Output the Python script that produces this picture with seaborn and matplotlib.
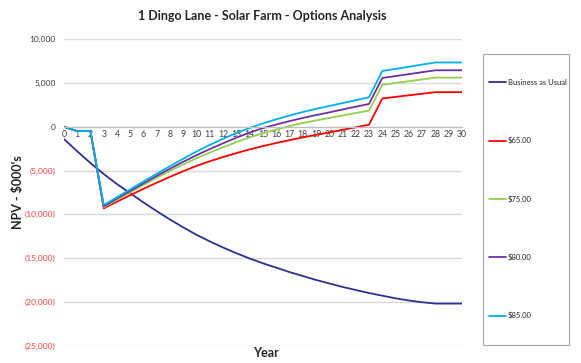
import pandas as pd
import matplotlib.pyplot as plt
import seaborn as sns
from matplotlib.patches import Rectangle

# Datos (NPV en $000's)
years = list(range(0, 31))
series_names = ['Business as Usual', '$65.00', '$75.00', '$80.00', '$85.00']

bau = [-1400, -2800, -4150, -5400, -6550, -7600, -8650, -9650, -10600, -11500,
       -12350, -13100, -13800, -14450, -15050, -15600, -16100, -16600, -17050,
       -17500, -17900, -18300, -18650, -19000, -19300, -19600, -19850, -20050,
       -20200, -20200, -20200]
opt_65 = [0, -500, -500, -9330, -8560, -7820, -7090, -6390, -5720, -5080,
          -4470, -3940, -3460, -3010, -2590, -2210, -1860, -1530, -1220, -930,
          -650, -350, -60, 230, 3230, 3410, 3590, 3770, 3950, 3950, 3950]
opt_75 = [0, -500, -500, -9200, -8350, -7500, -6650, -5830, -5040, -4300,
          -3600, -2950, -2340, -1760, -1210, -750, -320, 80, 430, 720,
          1000, 1290, 1570, 1840, 4800, 5000, 5200, 5400, 5610, 5610, 5610]
opt_80 = [0, -500, -500, -9100, -8200, -7330, -6460, -5610, -4790, -4000,
          -3250, -2550, -1890, -1250, -670, -150, 250, 640, 1000, 1330,
          1640, 1970, 2290, 2600, 5570, 5790, 6010, 6230, 6450, 6450, 6450]
opt_85 = [0, -500, -500, -8950, -8050, -7150, -6250, -5370, -4500, -3650,
          -2830, -2070, -1370, -720, -140, 380, 850, 1280, 1680, 2040,
          2370, 2700, 3030, 3370, 6370, 6610, 6850, 7100, 7340, 7340, 7340]

yticks = [10000, 5000, 0, -5000, -10000, -15000, -20000, -25000]
colores = ['#2E3192', '#FF0000', '#92D050', '#7030A0', '#00B0F0']

# Pasar a formato largo para seaborn
data = pd.DataFrame({'year': years, series_names[0]: bau, series_names[1]: opt_65,
                     series_names[2]: opt_75, series_names[3]: opt_80,
                     series_names[4]: opt_85})
data = data.melt(id_vars='year', var_name='serie', value_name='npv')

sns.set_style('white')
plt.rcParams['font.family'] = ['Lato', 'DejaVu Sans']

fig = plt.figure(figsize=(5.81, 3.63), dpi=100)
ax = fig.add_axes([0.110, 0.048, 0.685, 0.844])

sns.lineplot(data=data, x='year', y='npv', hue='serie', hue_order=series_names,
             palette=colores, linewidth=1.3, ax=ax)

ax.set_xlim(0, 30)
ax.set_ylim(-25000, 10000)

# Eje X sobre la línea de cero (antes de fijar ticks, si no se reinician)
ax.spines['bottom'].set_position(('data', 0))
ax.spines['bottom'].set_color('#BFBFBF')
for s in ['left', 'right', 'top']:
    ax.spines[s].set_visible(False)

ax.set_xticks(years)
ax.set_xticklabels([str(y) for y in years], fontsize=6.3, color='#404040')
ax.tick_params(axis='x', length=3, direction='inout', color='#BFBFBF', pad=1)

# Eje Y con negativos entre paréntesis y en rojo
ax.set_yticks(yticks)
etiquetas = []
for v in yticks:
    if v < 0:
        etiquetas.append('({:,})'.format(-v))
    else:
        etiquetas.append('{:,}'.format(v))
ax.set_yticklabels(etiquetas, fontsize=6)
for lab, v in zip(ax.get_yticklabels(), yticks):
    lab.set_color('#FF4040' if v < 0 else '#404040')
ax.tick_params(axis='y', length=0, pad=6)
ax.yaxis.grid(True, color='#D9D9D9', linewidth=1)

ax.set_xlabel('')
ax.set_ylabel('')
fig.text(0.458, 0.027, 'Year', fontsize=9, fontweight='bold', ha='center', va='center')
fig.text(0.031, 0.471, "NPV - $000's", fontsize=9, fontweight='bold', rotation=90,
         ha='center', va='center')
fig.text(0.452, 0.955, '1 Dingo Lane - Solar Farm - Options Analysis', fontsize=9,
         fontweight='bold', ha='center', va='center')

# Marco de la leyenda dibujado aparte
fig.patches.append(Rectangle((483 / 581, 1 - 345 / 363), 86 / 581, 291 / 363,
                             transform=fig.transFigure, fill=False,
                             edgecolor='#A6A6A6', linewidth=0.8))
leg = ax.legend(loc='upper left', bbox_to_anchor=(489 / 581, 1 - 79 / 363),
                bbox_transform=fig.transFigure, fontsize=5.5, frameon=False,
                labelspacing=6.65, borderpad=0, handlelength=2.2,
                handletextpad=0.3, borderaxespad=0)
for line in leg.get_lines():
    line.set_linewidth(1.3)

plt.savefig('out.png', dpi=100)
